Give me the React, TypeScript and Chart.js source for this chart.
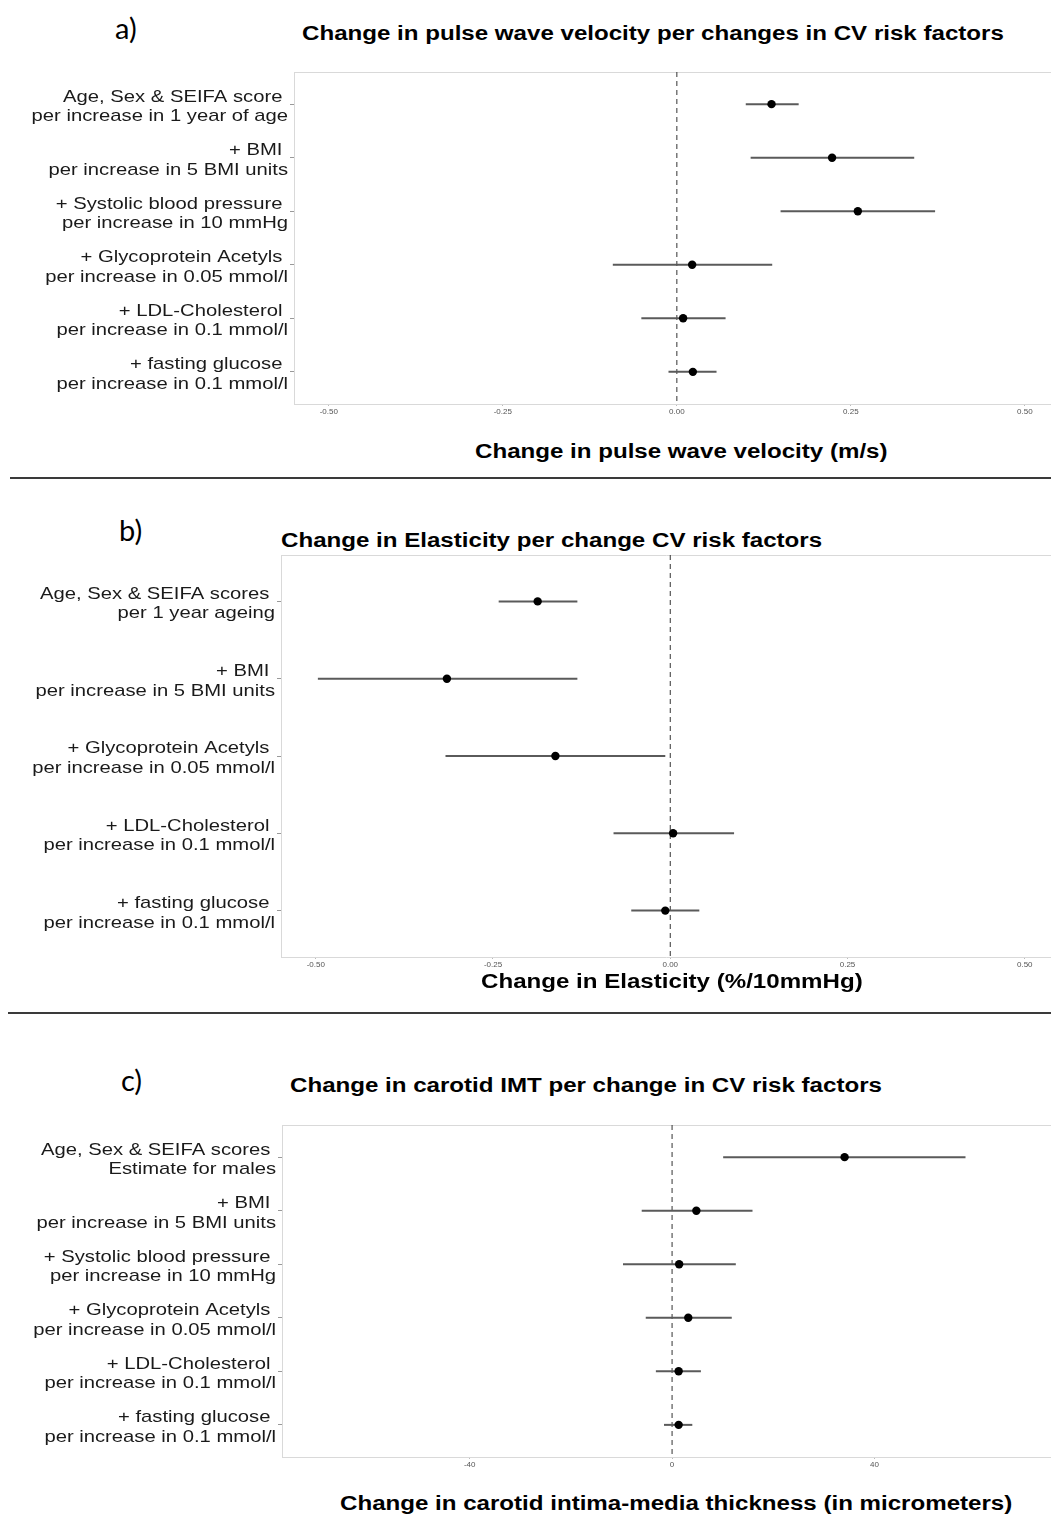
import React, { useEffect, useRef } from "react";
import { Chart, registerables, LinearScale } from "chart.js";

// ---------- Data ----------
const pwvLabels: string[][] = [
  ["Age, Sex & SEIFA score ", "per increase in 1 year of age"],
  ["+ BMI ", "per increase in 5 BMI units"],
  ["+ Systolic blood pressure ", "per increase in 10 mmHg"],
  ["+ Glycoprotein Acetyls ", "per increase in 0.05 mmol/l"],
  ["+ LDL-Cholesterol ", "per increase in 0.1 mmol/l"],
  ["+ fasting glucose ", "per increase in 0.1 mmol/l"],
];
const pwvEst = [0.136, 0.223, 0.26, 0.022, 0.009, 0.023];
const pwvLow = [0.099, 0.106, 0.149, -0.092, -0.051, -0.012];
const pwvHigh = [0.175, 0.341, 0.371, 0.137, 0.07, 0.057];

const elLabels: string[][] = [
  ["Age, Sex & SEIFA scores ", "per 1 year ageing"],
  ["+ BMI ", "per increase in 5 BMI units"],
  ["+ Glycoprotein Acetyls ", "per increase in 0.05 mmol/l"],
  ["+ LDL-Cholesterol ", "per increase in 0.1 mmol/l"],
  ["+ fasting glucose ", "per increase in 0.1 mmol/l"],
];
const elEst = [-0.187, -0.315, -0.162, 0.004, -0.007];
const elLow = [-0.242, -0.497, -0.317, -0.08, -0.055];
const elHigh = [-0.131, -0.131, -0.007, 0.09, 0.041];

const imtLabels: string[][] = [
  ["Age, Sex & SEIFA scores ", "Estimate for males"],
  ["+ BMI ", "per increase in 5 BMI units"],
  ["+ Systolic blood pressure ", "per increase in 10 mmHg"],
  ["+ Glycoprotein Acetyls ", "per increase in 0.05 mmol/l"],
  ["+ LDL-Cholesterol ", "per increase in 0.1 mmol/l"],
  ["+ fasting glucose ", "per increase in 0.1 mmol/l"],
];
const imtEst = [34.1, 4.8, 1.4, 3.2, 1.3, 1.3];
const imtLow = [10.1, -6.0, -9.7, -5.2, -3.2, -1.6];
const imtHigh = [58.0, 15.9, 12.6, 11.8, 5.7, 4.0];

const fractionTicks = [-0.5, -0.25, 0, 0.25, 0.5];
const imtTicks = [-40, 0, 40];

// ---------- Scale with horizontally stretched labels (the figure is widened) ----------
const STRETCH = 1.19;

class StretchedLinear extends (LinearScale as any) {
  static id = "stretchedLinear";
  static defaults = { ...(LinearScale as any).defaults };
  drawLabels(chartArea: any) {
    const ctx = (this as any).ctx;
    const items = (this as any).getLabelItems(chartArea);
    const ax = items.length ? items[0].options.translation[0] : (this as any).right;
    ctx.save();
    ctx.translate(ax, 2.5);
    ctx.scale(STRETCH, 1);
    ctx.translate(-ax, 0);
    super.drawLabels(chartArea);
    ctx.restore();
  }
}

Chart.register(...registerables);
Chart.register(StretchedLinear as any);

// ---------- Chart component ----------
type ForestProps = {
  labels: string[][];
  est: number[];
  low: number[];
  high: number[];
  ticks: number[];
  decimals: number;
  xMin: number;
  xMax: number;
  top: number;
  height: number;
  padTop: number;
  yAxisWidth: number;
  xAxisHeight: number;
};

const topBorder = {
  id: "topBorder",
  beforeDatasetsDraw(chart: any) {
    const { ctx, chartArea } = chart;
    ctx.save();
    ctx.strokeStyle = "#d9d9d9";
    ctx.lineWidth = 1;
    ctx.beginPath();
    ctx.moveTo(chartArea.left, chartArea.top + 0.5);
    ctx.lineTo(chartArea.right + 5, chartArea.top + 0.5);
    ctx.stroke();
    ctx.restore();
  },
};

const FONT = "'Liberation Sans', Arial, sans-serif";

function ForestChart(p: ForestProps) {
  const ref = useRef<HTMLCanvasElement | null>(null);
  useEffect(() => {
    if (!ref.current) return;
    const n = p.labels.length;
    const yMin = 0.4;
    const yMax = n + 0.6;
    const ciSets = p.est.map((_, i) => ({
      data: [
        { x: p.low[i], y: i + 1 },
        { x: p.high[i], y: i + 1 },
      ],
      showLine: true,
      borderColor: "#5a5a5a",
      borderWidth: 2,
      pointRadius: 0,
    }));
    const chart = new Chart(ref.current, {
      type: "scatter",
      data: {
        datasets: [
          {
            data: p.est.map((v, i) => ({ x: v, y: i + 1 })),
            pointRadius: 4.2,
            backgroundColor: "#000",
            borderColor: "#000",
            borderWidth: 0,
          },
          ...ciSets,
          {
            data: [
              { x: 0, y: yMin },
              { x: 0, y: yMax },
            ],
            showLine: true,
            borderColor: "#333",
            borderWidth: 1,
            borderDash: [5, 4],
            pointRadius: 0,
          },
        ] as any,
      },
      options: {
        animation: false,
        responsive: false,
        maintainAspectRatio: false,
        layout: { autoPadding: false, padding: { top: p.padTop, right: 0, bottom: 0, left: 0 } },
        plugins: { legend: { display: false }, tooltip: { enabled: false } },
        scales: {
          x: {
            type: "linear",
            min: p.xMin,
            max: p.xMax,
            afterBuildTicks: (s: any) => {
              s.ticks = p.ticks.map((v) => ({ value: v }));
            },
            afterFit: (s: any) => {
              s.height = p.xAxisHeight;
              s.paddingLeft = 0;
              s.paddingRight = 0;
            },
            ticks: {
              callback: (v: any) => Number(v).toFixed(p.decimals),
              font: { size: 8, family: FONT },
              color: "#555",
              padding: 1,
              maxRotation: 0,
              autoSkip: false,
            },
            grid: { drawOnChartArea: false, tickLength: 2, color: "#bbb" },
            border: { display: true, color: "#d9d9d9" },
          },
          y: {
            type: "stretchedLinear",
            min: yMin,
            max: yMax,
            reverse: true,
            afterBuildTicks: (s: any) => {
              s.ticks = p.labels.map((_, i) => ({ value: i + 1 }));
            },
            afterFit: (s: any) => {
              s.width = p.yAxisWidth;
              s.paddingTop = 0;
              s.paddingBottom = 0;
            },
            ticks: {
              callback: (v: any) => p.labels[Math.round(Number(v)) - 1],
              font: { size: 17, family: FONT, lineHeight: 1.15 },
              color: "#1a1a1a",
              padding: 2,
              autoSkip: false,
            },
            grid: { drawOnChartArea: false, tickLength: 4, color: "#999" },
            border: { display: true, color: "#d9d9d9" },
          } as any,
        },
      },
      plugins: [topBorder],
    });
    return () => chart.destroy();
  }, []);
  return (
    <canvas
      ref={ref}
      width={1051}
      height={p.height}
      style={{ position: "absolute", left: 0, top: p.top, width: 1051, height: p.height }}
    />
  );
}

// ---------- Text helpers ----------
const sans = "'Liberation Sans', Arial, Helvetica, sans-serif";

function Txt(props: {
  x: number;
  cy: number;
  size: number;
  bold?: boolean;
  family?: string;
  sx?: number;
  children: any;
}) {
  const h = props.size * 1.6;
  return (
    <div
      style={{
        position: "absolute",
        left: props.x,
        top: props.cy - h / 2,
        height: h,
        lineHeight: h + "px",
        fontSize: props.size,
        fontWeight: props.bold ? "bold" : "normal",
        fontFamily: props.family || sans,
        color: "#000",
        whiteSpace: "nowrap",
        transform: `scaleX(${props.sx ?? 1})`,
        transformOrigin: "left center",
      }}
    >
      {props.children}
    </div>
  );
}

function Rule(props: { y: number; x1: number }) {
  return (
    <div
      style={{
        position: "absolute",
        left: props.x1,
        top: props.y - 1,
        width: 1051 - props.x1,
        height: 2,
        background: "#3a3a3a",
      }}
    />
  );
}

const TS = 20;
const TX = 1.205;
const panelFont = "Lato, 'Open Sans', sans-serif";

export default function App() {
  return (
    <div
      style={{
        position: "absolute",
        left: 0,
        top: 0,
        width: 1051,
        height: 1533,
        background: "#fff",
        overflow: "hidden",
      }}
    >
      {/* Panel a */}
      <Txt x={115} cy={28} size={29} family={panelFont}>a)</Txt>
      <Txt x={302} cy={33} size={TS} bold sx={TX}>Change in pulse wave velocity per changes in CV risk factors</Txt>
      <ForestChart
        labels={pwvLabels}
        est={pwvEst}
        low={pwvLow}
        high={pwvHigh}
        ticks={fractionTicks}
        decimals={2}
        xMin={-0.55}
        xMax={0.5375}
        top={60}
        height={360}
        padTop={12}
        yAxisWidth={294}
        xAxisHeight={16}
      />
      <Txt x={475} cy={451} size={TS} bold sx={TX}>Change in pulse wave velocity (m/s)</Txt>
      <Rule y={478} x1={10} />

      {/* Panel b */}
      <Txt x={119} cy={530} size={29} family={panelFont}>b)</Txt>
      <Txt x={281} cy={540} size={TS} bold sx={TX}>Change in Elasticity per change CV risk factors</Txt>
      <ForestChart
        labels={elLabels}
        est={elEst}
        low={elLow}
        high={elHigh}
        ticks={fractionTicks}
        decimals={2}
        xMin={-0.549}
        xMax={0.537}
        top={545}
        height={424}
        padTop={10}
        yAxisWidth={281}
        xAxisHeight={12}
      />
      <Txt x={481} cy={981} size={TS} bold sx={TX}>Change in Elasticity (%/10mmHg)</Txt>
      <Rule y={1013} x1={8} />

      {/* Panel c */}
      <Txt x={121} cy={1080} size={29} family={panelFont}>c)</Txt>
      <Txt x={290} cy={1085} size={TS} bold sx={TX}>Change in carotid IMT per change in CV risk factors</Txt>
      <ForestChart
        labels={imtLabels}
        est={imtEst}
        low={imtLow}
        high={imtHigh}
        ticks={imtTicks}
        decimals={0}
        xMin={-77.1}
        xMax={74.9}
        top={1110}
        height={360}
        padTop={15}
        yAxisWidth={282}
        xAxisHeight={13}
      />
      <Txt x={340} cy={1503} size={TS} bold sx={TX}>Change in carotid intima-media thickness (in micrometers)</Txt>
    </div>
  );
}
